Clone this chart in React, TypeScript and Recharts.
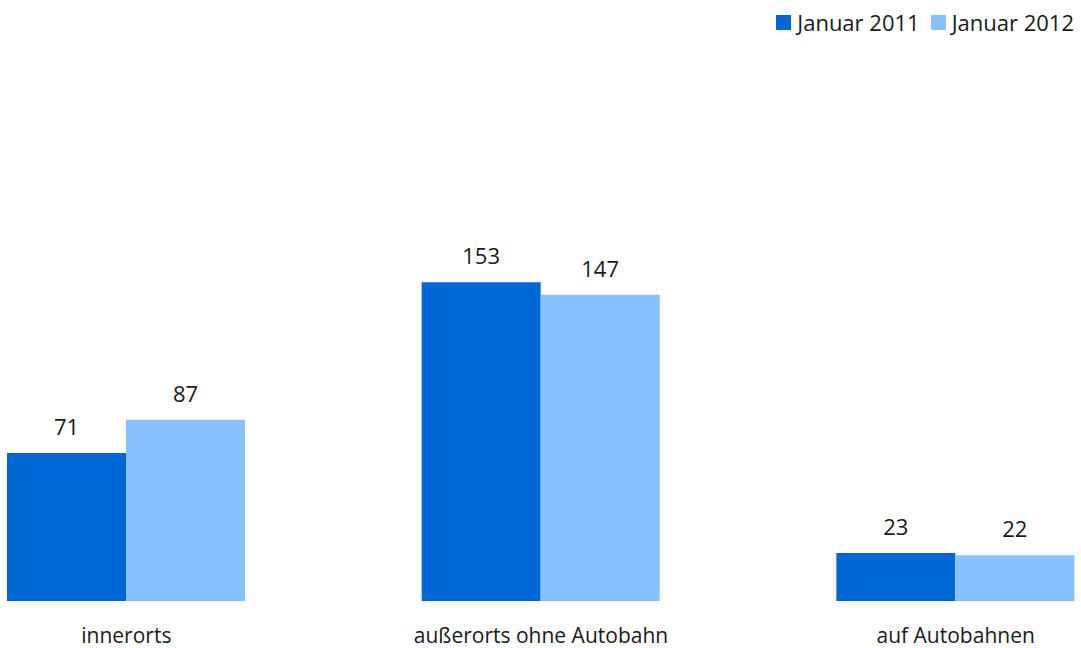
import { BarChart, Bar, XAxis, YAxis, LabelList, Legend } from "recharts";

const categories = ["innerorts", "außerorts ohne Autobahn", "auf Autobahnen"];
const jan2011 = [71, 153, 23];
const jan2012 = [87, 147, 22];
const seriesNames = ["Januar 2011", "Januar 2012"];

const data = categories.map((name, i) => ({
  name,
  jan2011: jan2011[i],
  jan2012: jan2012[i],
}));

const DARK = "#0068D6";
const LIGHT = "#88C1FF";
const TEXT = "#1a1a1a";
const FONT = "'Open Sans', 'Noto Sans', sans-serif";

function LegendBox({ payload }: any) {
  return (
    <div style={{ display: "flex", gap: 11, fontFamily: FONT, fontSize: 22, lineHeight: "24px", color: TEXT }}>
      {(payload || []).map((p: any) => (
        <div key={p.value} style={{ display: "flex", alignItems: "center" }}>
          <span style={{ display: "inline-block", width: 15, height: 15, background: p.color, marginRight: 6 }} />
          <span>{p.value}</span>
        </div>
      ))}
    </div>
  );
}

export default function App() {
  return (
    <div style={{ position: "absolute", top: 0, left: 0, width: 1081, height: 648, overflow: "hidden", background: "#fff" }}>
      <div style={{ position: "absolute", top: 0, left: -81 }}>
        <BarChart
          width={1244}
          height={648}
          data={data}
          margin={{ top: 80, right: 0, bottom: 17, left: 0 }}
          barGap={0}
          barCategoryGap={88}
        >
          <XAxis
            dataKey="name"
            axisLine={false}
            tickLine={false}
            tickSize={0}
            tickMargin={27}
            interval={0}
            tick={{ fill: TEXT, fontSize: 21, fontFamily: FONT }}
          />
          <YAxis hide domain={[0, 250]} />
          <Legend
            verticalAlign="middle"
            content={<LegendBox />}
            wrapperStyle={{ top: 10, right: 89, width: "auto" }}
          />
          <Bar dataKey="jan2011" name={seriesNames[0]} fill={DARK} isAnimationActive={false}>
            <LabelList dataKey="jan2011" position="top" offset={18} fill={TEXT} fontSize={22} fontFamily={FONT} />
          </Bar>
          <Bar dataKey="jan2012" name={seriesNames[1]} fill={LIGHT} isAnimationActive={false}>
            <LabelList dataKey="jan2012" position="top" offset={18} fill={TEXT} fontSize={22} fontFamily={FONT} />
          </Bar>
        </BarChart>
      </div>
    </div>
  );
}
